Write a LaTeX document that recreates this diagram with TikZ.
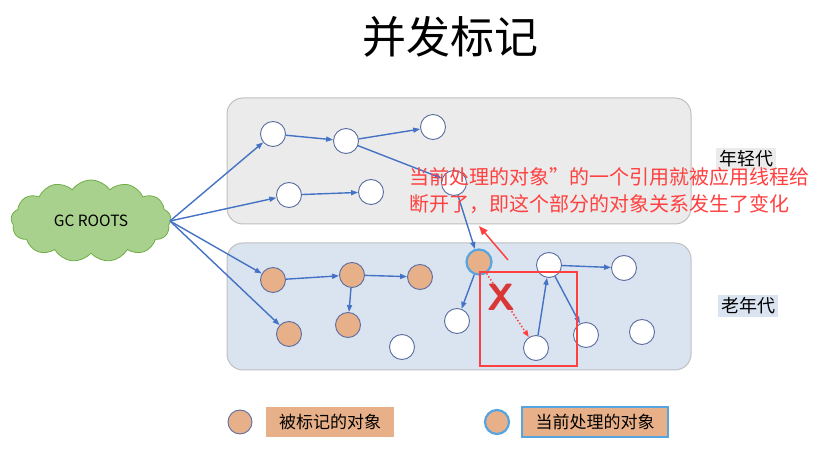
\documentclass[tikz,border=0pt]{standalone}
\usepackage{fontspec}
\setmainfont{Noto Sans CJK SC}
\usetikzlibrary{shapes.symbols,arrows.meta}
\definecolor{arrblue}{RGB}{68,114,196}
\definecolor{nodeedge}{RGB}{90,110,160}
\definecolor{orangefill}{RGB}{232,176,136}
\definecolor{curblue}{RGB}{86,165,224}
\definecolor{youngfill}{RGB}{235,235,235}
\definecolor{oldfill}{RGB}{218,227,240}
\definecolor{boxedge}{RGB}{191,191,191}
\definecolor{redc}{RGB}{255,64,64}
\definecolor{cloudfill}{RGB}{169,209,142}
\definecolor{cloudedge}{RGB}{112,173,71}
\tikzset{
  obj/.style={circle, draw=nodeedge, line width=0.9pt, minimum size=25pt, inner sep=0pt, fill=white},
  marked/.style={obj, fill=orangefill},
  current/.style={obj, fill=orangefill, draw=curblue, line width=2.2pt},
  ref/.style={draw=arrblue, line width=1.4pt, -{Triangle[length=7pt,width=5pt]}},
  genbox/.style={draw=boxedge, line width=1pt, rounded corners=16pt},
  genlabel/.style={inner sep=3pt, font=\fontsize{18}{21}\selectfont},
  legtext/.style={fill=orangefill, font=\fontsize{17}{20}\selectfont, inner sep=0pt, minimum height=30pt},
}
\begin{document}
\begin{tikzpicture}[x=1pt,y=-1pt]
\useasboundingbox (0,0) rectangle (831,470);
% title
\node[font=\fontsize{44}{50}\selectfont] (title) at (450,37) {并发标记};
% generation boxes
\draw[genbox, fill=youngfill] (227,98) rectangle (691,224);
\draw[genbox, fill=oldfill] (227,243) rectangle (691,370);
\node[genlabel, fill=youngfill] (ylab) at (746,159) {年轻代};
\node[genlabel, fill=oldfill] (olab) at (748,306) {老年代};
% cloud
\node[cloud, cloud puffs=13, cloud puff arc=110, aspect=1.9, fill=cloudfill, draw=cloudedge, line width=0.8pt,
      minimum width=160pt, minimum height=82pt, inner sep=0pt, font=\fontsize{15.5}{18}\selectfont] (roots) at (91,221) {GC ROOTS};
\coordinate (rp) at (170,221);
% young nodes
\node[obj] (y1) at (273,134) {};
\node[obj] (y2) at (346,141) {};
\node[obj] (y3) at (433,127) {};
\node[obj] (y4) at (289,195) {};
\node[obj] (y5) at (371,192) {};
\node[obj] (y6) at (454,183) {};
% old nodes
\node[marked] (o1) at (273,280) {};
\node[marked] (o2) at (352,275) {};
\node[marked] (o3) at (420,277) {};
\node[marked] (o4) at (348,325) {};
\node[marked] (o5) at (289,334) {};
\node[current] (c) at (479,262) {};
\node[obj] (w1) at (457,321) {};
\node[obj] (w2) at (402,347) {};
\node[obj] (w3) at (549,265) {};
\node[obj] (w4) at (624,268) {};
\node[obj] (w5) at (536,348) {};
\node[obj] (w6) at (586,335) {};
\node[obj] (w7) at (642,332) {};
% references
\draw[ref] (rp) -- (y1);
\draw[ref] (rp) -- (y4);
\draw[ref] (rp) -- (o1);
\draw[ref] (rp) -- (o5);
\draw[ref] (y1) -- (y2);
\draw[ref] (y2) -- (y3);
\draw[ref] (y2) -- (y6);
\draw[ref] (y4) -- (y5);
\draw[ref] (y6) -- (c);
\draw[ref] (o1) -- (o2);
\draw[ref] (o2) -- (o3);
\draw[ref] (o2) -- (o4);
\draw[ref] (c) -- (w1);
\draw[ref] (w5) -- (w3);
\draw[ref] (w3) -- (w4);
\draw[ref] (w3) -- (w6);
\draw[redc, line width=1.5pt, dotted, -{Triangle[length=7pt,width=5pt]}] (c) -- (w5);
% red highlight box
\draw[redc, line width=2pt] (480,272) rectangle (577,366);
\node[text=redc!85!black, font=\fontsize{38}{38}\bfseries\sffamily\selectfont] (xmark) at (501,297) {X};
% annotation
\coordinate (ra) at (508,260);
\coordinate (rb) at (479,226);
\draw[redc, line width=1.5pt, -{Triangle[length=9pt,width=7pt]}] (ra) -- (rb);
\node[text=redc, anchor=west, align=left, inner sep=0pt, font=\fontsize{20}{27}\selectfont] (note) at (409,191)
  {当前处理的对象”的一个引用就被应用线程给\\断开了，即这个部分的对象关系发生了变化};
% legend
\node[marked, minimum size=24pt] (lg1) at (240,422) {};
\node[legtext, minimum width=128pt] (lt1) at (330,422) {被标记的对象};
\node[current, minimum size=24pt] (lg2) at (497,422) {};
\node[legtext, minimum width=146pt, draw=curblue, line width=2.2pt] (lt2) at (595,422) {当前处理的对象};
\end{tikzpicture}
\end{document}
